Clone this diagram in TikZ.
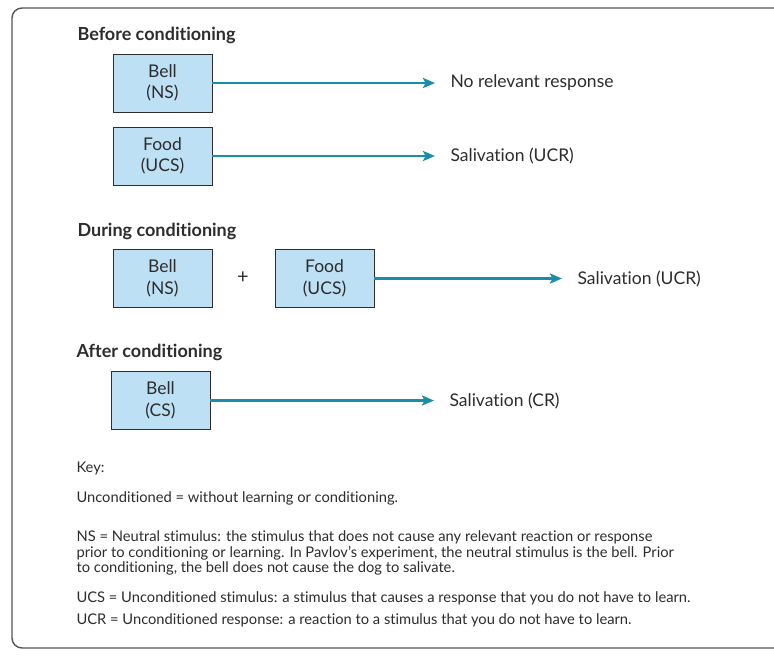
\documentclass[tikz,border=0pt]{standalone}
\usepackage{fontspec}
\setmainfont{Lato}[Ligatures=NoCommon]
\usetikzlibrary{arrows.meta}
\definecolor{boxfill}{RGB}{190,224,245}
\definecolor{linkteal}{RGB}{24,142,168}
\definecolor{ink}{RGB}{45,45,45}
\definecolor{framegray}{RGB}{85,85,85}
\tikzset{
  stim/.style={draw=ink, line width=0.9pt, fill=boxfill, minimum width=99pt, minimum height=58pt,
    align=center, font=\fontsize{17.5}{21.5}\selectfont, text=ink},
  heading/.style={anchor=west, font=\fontsize{18}{20}\selectfont\bfseries, text=ink},
  resp/.style={anchor=west, font=\fontsize{17.5}{20}\selectfont, text=ink},
  keytext/.style={anchor=west, align=left, font=\fontsize{14.7}{15.6}\selectfont, text=ink},
  link/.style={draw=linkteal, line width=2.4pt, shorten >=12pt, -{Stealth[length=12pt,width=10pt,inset=2.5pt]}}
}
\begin{document}
\begin{tikzpicture}[x=1pt,y=-1pt]
\useasboundingbox (0,0) rectangle (774,657);
\fill[white] (0,0) rectangle (774,657);
\clip (0,0) rectangle (774,657);
% outer panel
\draw[framegray, line width=1.4pt, rounded corners=10pt] (800,8) -- (12,8) -- (12,648) -- (800,648);

% before conditioning
\node[heading] (h1) at (74,35) {Before conditioning};
\node[stim] (bell1) at (162.5,83) {Bell\\(NS)};
\node[stim] (food1) at (162.5,156) {Food\\(UCS)};
\node[resp] (r1) at (447,83) {No relevant response};
\node[resp] (r2) at (447,156) {Salivation (UCR)};
\draw[link] (bell1.east) -- (r1.west);
\draw[link] (food1.east) -- (r2.west);

% during conditioning
\node[heading] (h2) at (74,231) {During conditioning};
\node[stim] (bell2) at (162.5,278.5) {Bell\\(NS)};
\node[text=ink, font=\fontsize{20}{22}\selectfont] (plus) at (243,278) {+};
\node[stim] (food2) at (324.5,278.5) {Food\\(UCS)};
\node[resp] (r3) at (574,278.5) {Salivation (UCR)};
\draw[link] (food2.east) -- (r3.west);

% after conditioning
\node[heading] (h3) at (73,352) {After conditioning};
\node[stim] (bell3) at (160.5,400.5) {Bell\\(CS)};
\node[resp] (r4) at (446,400.5) {Salivation (CR)};
\draw[link] (bell3.east) -- (r4.west);

% key
\node[keytext] (k0) at (73,468) {Key:};
\node[keytext] (k1) at (73,498) {Unconditioned = without learning or conditioning.};
\node[keytext] (k2) at (73,553) {NS = Neutral stimulus: the stimulus that does not cause any relevant reaction or response\\
prior to conditioning or learning. In Pavlov’s experiment, the neutral stimulus is the bell. Prior\\
to conditioning, the bell does not cause the dog to salivate.};
\node[keytext] (k3) at (73,598) {UCS = Unconditioned stimulus: a stimulus that causes a response that you do not have to learn.};
\node[keytext] (k4) at (73,620) {UCR = Unconditioned response: a reaction to a stimulus that you do not have to learn.};
\end{tikzpicture}
\end{document}
